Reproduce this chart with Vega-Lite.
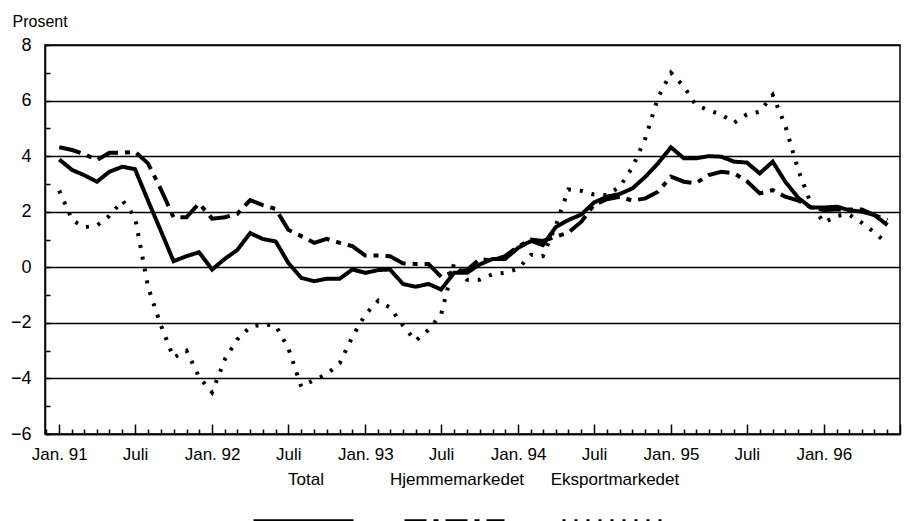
{
  "$schema": "https://vega.github.io/schema/vega-lite/v6.json",
  "width": 855,
  "height": 389,
  "autosize": {"type": "none"},
  "padding": {"left": 45, "top": 45, "right": 6, "bottom": 87},
  "background": "white",
  "config": {
    "font": "Liberation Sans",
    "view": {"stroke": "black", "strokeWidth": 1.5},
    "axis": {"labelFont": "Liberation Sans", "titleFont": "Liberation Sans", "labelColor": "black", "titleColor": "black"},
    "legend": {"labelFont": "Liberation Sans"}
  },
  "data": {"values": [
    {"d": "1991-01-01", "Total": 3.88, "Hjemmemarkedet": 4.32, "Eksportmarkedet": 2.76},
    {"d": "1991-02-01", "Total": 3.5, "Hjemmemarkedet": 4.22, "Eksportmarkedet": 1.7},
    {"d": "1991-03-01", "Total": 3.32, "Hjemmemarkedet": 4.08, "Eksportmarkedet": 1.44},
    {"d": "1991-04-01", "Total": 3.08, "Hjemmemarkedet": 3.86, "Eksportmarkedet": 1.5},
    {"d": "1991-05-01", "Total": 3.44, "Hjemmemarkedet": 4.12, "Eksportmarkedet": 1.85},
    {"d": "1991-06-01", "Total": 3.62, "Hjemmemarkedet": 4.12, "Eksportmarkedet": 2.4},
    {"d": "1991-07-01", "Total": 3.53, "Hjemmemarkedet": 4.16, "Eksportmarkedet": 1.8},
    {"d": "1991-08-01", "Total": 2.4, "Hjemmemarkedet": 3.74, "Eksportmarkedet": -0.7},
    {"d": "1991-09-01", "Total": 1.3, "Hjemmemarkedet": 2.8, "Eksportmarkedet": -2.1},
    {"d": "1991-10-01", "Total": 0.22, "Hjemmemarkedet": 1.8, "Eksportmarkedet": -3.25},
    {"d": "1991-11-01", "Total": 0.4, "Hjemmemarkedet": 1.8, "Eksportmarkedet": -3.0},
    {"d": "1991-12-01", "Total": 0.54, "Hjemmemarkedet": 2.3, "Eksportmarkedet": -3.95},
    {"d": "1992-01-01", "Total": -0.08, "Hjemmemarkedet": 1.75, "Eksportmarkedet": -4.5},
    {"d": "1992-02-01", "Total": 0.31, "Hjemmemarkedet": 1.8, "Eksportmarkedet": -3.3},
    {"d": "1992-03-01", "Total": 0.62, "Hjemmemarkedet": 1.92, "Eksportmarkedet": -2.6},
    {"d": "1992-04-01", "Total": 1.23, "Hjemmemarkedet": 2.42, "Eksportmarkedet": -2.15},
    {"d": "1992-05-01", "Total": 1.02, "Hjemmemarkedet": 2.24, "Eksportmarkedet": -2.05},
    {"d": "1992-06-01", "Total": 0.93, "Hjemmemarkedet": 2.1, "Eksportmarkedet": -2.1},
    {"d": "1992-07-01", "Total": 0.16, "Hjemmemarkedet": 1.35, "Eksportmarkedet": -2.9},
    {"d": "1992-08-01", "Total": -0.38, "Hjemmemarkedet": 1.12, "Eksportmarkedet": -4.3},
    {"d": "1992-09-01", "Total": -0.5, "Hjemmemarkedet": 0.88, "Eksportmarkedet": -4.05},
    {"d": "1992-10-01", "Total": -0.41, "Hjemmemarkedet": 1.02, "Eksportmarkedet": -3.85},
    {"d": "1992-11-01", "Total": -0.41, "Hjemmemarkedet": 0.88, "Eksportmarkedet": -3.45},
    {"d": "1992-12-01", "Total": -0.08, "Hjemmemarkedet": 0.76, "Eksportmarkedet": -2.5},
    {"d": "1993-01-01", "Total": -0.2, "Hjemmemarkedet": 0.42, "Eksportmarkedet": -1.7},
    {"d": "1993-02-01", "Total": -0.1, "Hjemmemarkedet": 0.42, "Eksportmarkedet": -1.2},
    {"d": "1993-03-01", "Total": -0.08, "Hjemmemarkedet": 0.4, "Eksportmarkedet": -1.45},
    {"d": "1993-04-01", "Total": -0.6, "Hjemmemarkedet": 0.14, "Eksportmarkedet": -2.1},
    {"d": "1993-05-01", "Total": -0.7, "Hjemmemarkedet": 0.12, "Eksportmarkedet": -2.65},
    {"d": "1993-06-01", "Total": -0.6, "Hjemmemarkedet": 0.12, "Eksportmarkedet": -2.25},
    {"d": "1993-07-01", "Total": -0.8, "Hjemmemarkedet": -0.35, "Eksportmarkedet": -1.7},
    {"d": "1993-08-01", "Total": -0.2, "Hjemmemarkedet": -0.15, "Eksportmarkedet": 0.15},
    {"d": "1993-09-01", "Total": -0.2, "Hjemmemarkedet": -0.1, "Eksportmarkedet": -0.45},
    {"d": "1993-10-01", "Total": 0.1, "Hjemmemarkedet": 0.3, "Eksportmarkedet": -0.45},
    {"d": "1993-11-01", "Total": 0.3, "Hjemmemarkedet": 0.25, "Eksportmarkedet": -0.25},
    {"d": "1993-12-01", "Total": 0.3, "Hjemmemarkedet": 0.4, "Eksportmarkedet": -0.2},
    {"d": "1994-01-01", "Total": 0.7, "Hjemmemarkedet": 0.75, "Eksportmarkedet": -0.05},
    {"d": "1994-02-01", "Total": 0.95, "Hjemmemarkedet": 1.0, "Eksportmarkedet": 0.45},
    {"d": "1994-03-01", "Total": 0.8, "Hjemmemarkedet": 0.95, "Eksportmarkedet": 0.4},
    {"d": "1994-04-01", "Total": 1.45, "Hjemmemarkedet": 1.1, "Eksportmarkedet": 1.5},
    {"d": "1994-05-01", "Total": 1.7, "Hjemmemarkedet": 1.25, "Eksportmarkedet": 2.8},
    {"d": "1994-06-01", "Total": 1.9, "Hjemmemarkedet": 1.64, "Eksportmarkedet": 2.75},
    {"d": "1994-07-01", "Total": 2.33, "Hjemmemarkedet": 2.24, "Eksportmarkedet": 2.62},
    {"d": "1994-08-01", "Total": 2.54, "Hjemmemarkedet": 2.45, "Eksportmarkedet": 2.6},
    {"d": "1994-09-01", "Total": 2.64, "Hjemmemarkedet": 2.54, "Eksportmarkedet": 2.9},
    {"d": "1994-10-01", "Total": 2.84, "Hjemmemarkedet": 2.4, "Eksportmarkedet": 3.6},
    {"d": "1994-11-01", "Total": 3.26, "Hjemmemarkedet": 2.48, "Eksportmarkedet": 4.65},
    {"d": "1994-12-01", "Total": 3.74, "Hjemmemarkedet": 2.72, "Eksportmarkedet": 6.1},
    {"d": "1995-01-01", "Total": 4.32, "Hjemmemarkedet": 3.26, "Eksportmarkedet": 7.0},
    {"d": "1995-02-01", "Total": 3.92, "Hjemmemarkedet": 3.08, "Eksportmarkedet": 6.5},
    {"d": "1995-03-01", "Total": 3.92, "Hjemmemarkedet": 3.02, "Eksportmarkedet": 5.85},
    {"d": "1995-04-01", "Total": 4.0, "Hjemmemarkedet": 3.32, "Eksportmarkedet": 5.65},
    {"d": "1995-05-01", "Total": 3.98, "Hjemmemarkedet": 3.44, "Eksportmarkedet": 5.5},
    {"d": "1995-06-01", "Total": 3.8, "Hjemmemarkedet": 3.38, "Eksportmarkedet": 5.2},
    {"d": "1995-07-01", "Total": 3.77, "Hjemmemarkedet": 3.1, "Eksportmarkedet": 5.5},
    {"d": "1995-08-01", "Total": 3.38, "Hjemmemarkedet": 2.66, "Eksportmarkedet": 5.6},
    {"d": "1995-09-01", "Total": 3.8, "Hjemmemarkedet": 2.78, "Eksportmarkedet": 6.2},
    {"d": "1995-10-01", "Total": 3.08, "Hjemmemarkedet": 2.54, "Eksportmarkedet": 5.1},
    {"d": "1995-11-01", "Total": 2.5, "Hjemmemarkedet": 2.4, "Eksportmarkedet": 3.5},
    {"d": "1995-12-01", "Total": 2.15, "Hjemmemarkedet": 2.16, "Eksportmarkedet": 2.3},
    {"d": "1996-01-01", "Total": 2.15, "Hjemmemarkedet": 2.06, "Eksportmarkedet": 1.6},
    {"d": "1996-02-01", "Total": 2.18, "Hjemmemarkedet": 2.08, "Eksportmarkedet": 1.85},
    {"d": "1996-03-01", "Total": 2.06, "Hjemmemarkedet": 2.08, "Eksportmarkedet": 1.9},
    {"d": "1996-04-01", "Total": 2.0, "Hjemmemarkedet": 2.08, "Eksportmarkedet": 1.6},
    {"d": "1996-05-01", "Total": 1.88, "Hjemmemarkedet": 1.88, "Eksportmarkedet": 1.25},
    {"d": "1996-06-01", "Total": 1.52, "Hjemmemarkedet": 1.7, "Eksportmarkedet": 0.85}
  ]},
  "transform": [
    {"fold": ["Eksportmarkedet", "Hjemmemarkedet", "Total"], "as": ["serie", "v"]}
  ],
  "mark": {"type": "line", "color": "black", "strokeWidth": 4, "strokeCap": "butt", "strokeJoin": "miter", "clip": true},
  "encoding": {
    "x": {
      "field": "d", "type": "temporal",
      "scale": {"type": "utc", "domain": ["1990-11-28", "1996-07-01"]},
      "axis": {
        "title": null,
        "grid": false,
        "domainColor": "black",
        "domainWidth": 1.5,
        "tickColor": "black",
        "tickWidth": 1.5,
        "tickCount": {"interval": "month", "step": 1},
        "tickSize": {"condition": {"test": "utcmonth(datum.value) % 6 == 0", "value": -10}, "value": -5},
        "labelExpr": "utcyear(datum.value) >= 1996 && utcmonth(datum.value) >= 6 ? '' : (utcmonth(datum.value) == 0 ? 'Jan. ' + utcFormat(datum.value, '%y') : (utcmonth(datum.value) == 6 ? 'Juli' : ''))",
        "labelOverlap": false,
        "labelFlush": false,
        "labelFontSize": 17,
        "labelPadding": 22
      }
    },
    "y": {
      "field": "v", "type": "quantitative",
      "scale": {"domain": [-6, 8], "nice": false, "zero": false},
      "axis": {
        "title": "Prosent",
        "titleAngle": 0,
        "titleAlign": "left",
        "titleBaseline": "alphabetic",
        "titleX": -33,
        "titleY": -19,
        "titleFontSize": 16,
        "titleFontWeight": "normal",
        "values": [-6, -5, -4, -3, -2, -1, 0, 1, 2, 3, 4, 5, 6, 7, 8],
        "labelExpr": "datum.value % 2 == 0 ? datum.label : ''",
        "labelFontSize": 18,
        "labelPadding": 19,
        "domainColor": "black",
        "domainWidth": 1.5,
        "tickColor": "black",
        "tickWidth": 1.5,
        "tickSize": -5,
        "grid": true,
        "gridColor": "black",
        "gridWidth": 1.3,
        "gridOpacity": {"condition": {"test": "datum.value % 2 != 0", "value": 0}, "value": 1}
      }
    },
    "strokeDash": {
      "field": "serie", "type": "nominal",
      "scale": {"domain": ["Total", "Hjemmemarkedet", "Eksportmarkedet"], "range": [[1, 0], [22, 7, 5, 7], [3, 9]]},
      "legend": {
        "title": null,
        "orient": "none",
        "direction": "horizontal",
        "legendX": 206,
        "legendY": 424,
        "padding": 0,
        "columnPadding": 25,
        "symbolType": "stroke",
        "symbolSize": 10000,
        "symbolStrokeWidth": 5,
        "symbolStrokeColor": "black",
        "labelFontSize": 17,
        "labelColor": "black",
        "labelAlign": "center",
        "labelOffset": -50,
        "encode": {"labels": {"update": {"dy": {"value": -42}}}}
      }
    }
  }
}
